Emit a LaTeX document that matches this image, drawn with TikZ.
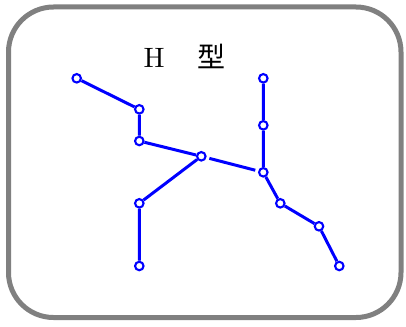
\documentclass[tikz,border=0pt]{standalone}
\usepackage{fontspec}
\newfontfamily\cjk{Noto Sans CJK SC}
\newfontfamily\titlerm{lmroman10-regular.otf}
\definecolor{Frame}{HTML}{808080}
\definecolor{Bond}{HTML}{0000FF}
\tikzset{
  joint/.style={circle,draw=Bond,fill=white,line width=2.1pt,
                inner sep=0pt,minimum size=8.5pt},
  bond/.style={Bond,line width=3pt}
}
\begin{document}
\begin{tikzpicture}[x=1pt,y=-1pt]
  \useasboundingbox (0,0) rectangle (406,326);
  \draw[Frame,line width=5pt,rounded corners=45pt] (8.5,7) rectangle (401,317.5);
  \node[font=\titlerm\fontsize{28}{32}\selectfont,anchor=base west,inner sep=0pt]
    (title) at (143.5,68) {H\hspace{33pt}{\cjk 型}};

  % left branch
  \foreach \name/\x/\y in {a/76.7/78.3, b/139.3/109.3, c/139.3/141,
      d/201.3/156.3, e/139.3/203.3, f/139.3/266}
    \node[joint] (\name) at (\x,\y) {};
  % right branch
  \foreach \name/\x/\y in {g/263.3/78.3, h/263.3/125.3, i/263.3/172.3,
      j/280.3/203.3, k/319/226.3, l/339.3/266}
    \node[joint] (\name) at (\x,\y) {};

  \draw[bond] (a) -- (b) -- (c) -- (d) -- (e) -- (f);
  \draw[bond] (g) -- (h) -- (i) -- (j) -- (k) -- (l);
  \draw[bond,shorten <=3pt,shorten >=3pt] (d) -- (i);
\end{tikzpicture}
\end{document}
